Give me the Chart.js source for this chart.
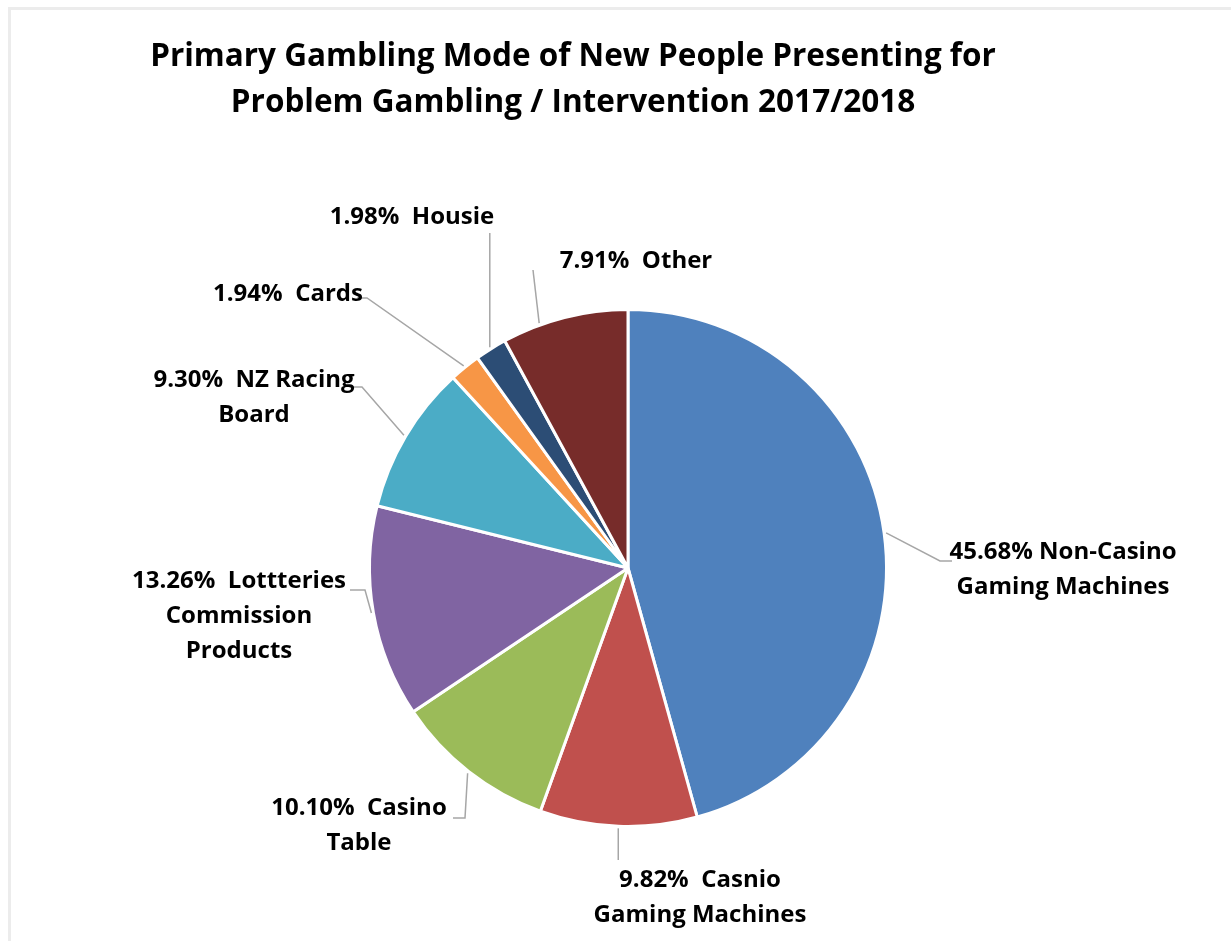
<!DOCTYPE html>
<html>
<head>
<meta charset="utf-8">
<script src="https://cdn.jsdelivr.net/npm/chart.js@4.4.1/dist/chart.umd.min.js"></script>
<style>
  html, body { margin: 0; padding: 0; background: #fff; }
  #frame {
    position: absolute; left: 8px; top: 7px; width: 1240px; height: 960px;
    border-top: 3px solid #ececec; border-left: 3px solid #ececec;
  }
  #chart { position: absolute; left: 0; top: 0; }
</style>
</head>
<body>
<div id="frame"></div>
<canvas id="chart" width="1231" height="941"></canvas>
<script>
// Slice data, clockwise from 12 o'clock
const categories = [
    'Non-Casino\nGaming Machines',
    'Casnio\nGaming Machines',
    'Casino\nTable',
    'Lottteries\nCommission\nProducts',
    'NZ Racing\nBoard',
    'Cards',
    'Housie',
    'Other'
];
const shares = [45.68, 9.82, 10.10, 13.26, 9.30, 1.94, 1.98, 7.91];
const sliceColors = ['#4F81BD', '#C0504D', '#9BBB59', '#8064A2', '#4BACC6', '#F79646', '#2C4D75', '#772C2A'];

const titleLines = [
    'Primary Gambling Mode of New People Presenting for',
    'Problem Gambling / Intervention 2017/2018'
];

// Where each data label sits (first line centre), where along the slice its
// leader starts (0..1 of the arc) and the bends of the leader line
const labelLayout = [
    { x: 1063, y: 552, gap: ' ',  at: 0.5, bends: [[940, 561], [952, 561]] },
    { x: 700,  y: 880, gap: '  ', at: 0.5, bends: [[0, 860]] },
    { x: 359,  y: 808, gap: '  ', at: 0.5, bends: [[465, 818], [453, 818]] },
    { x: 239,  y: 581, gap: '  ', at: 0.5, bends: [[365, 590], [350, 590]] },
    { x: 254,  y: 380, gap: '  ', at: 0.5, bends: [[362, 387], [352, 387]] },
    { x: 288,  y: 294, gap: '  ', at: 0.5, bends: [[367, 298], [357, 298]] },
    { x: 412,  y: 217, gap: '  ', at: 0.5, bends: [[0, 233]] },
    { x: 636,  y: 261, gap: '  ', at: 0.3, bends: [[533, 270]] }
];

const labelFont = 'bold 24px "Open Sans"';
const lineHeight = 35;

const pieLabels = {
    id: 'pieLabels',
    afterDraw(chart) {
        const ctx = chart.ctx;
        const arcs = chart.getDatasetMeta(0).data;

        ctx.save();

        // title
        ctx.fillStyle = '#000';
        ctx.font = 'bold 31.5px "Open Sans"';
        ctx.textAlign = 'center';
        ctx.textBaseline = 'middle';
        titleLines.forEach((t, i) => ctx.fillText(t, 573, 57 + i * 46));

        // leader lines
        ctx.strokeStyle = '#a6a6a6';
        ctx.lineWidth = 1.5;
        arcs.forEach((arc, i) => {
            const lay = labelLayout[i];
            const p = arc.getProps(['x', 'y', 'startAngle', 'endAngle', 'outerRadius'], true);
            const a = p.startAngle + (p.endAngle - p.startAngle) * lay.at;
            const sx = p.x + Math.cos(a) * (p.outerRadius + 2);
            const sy = p.y + Math.sin(a) * (p.outerRadius + 2);
            ctx.beginPath();
            ctx.moveTo(sx, sy);
            lay.bends.forEach(b => {
                // a zero x means a straight vertical drop from the slice
                ctx.lineTo(b[0] || sx, b[1]);
            });
            ctx.stroke();
        });

        // label text
        ctx.fillStyle = '#000';
        ctx.font = labelFont;
        shares.forEach((v, i) => {
            const lay = labelLayout[i];
            const lines = (v.toFixed(2) + '%' + lay.gap + categories[i]).split('\n');
            lines.forEach((line, j) => ctx.fillText(line, lay.x, lay.y + j * lineHeight));
        });

        ctx.restore();
    }
};

new Chart(document.getElementById('chart'), {
    type: 'pie',
    data: {
        labels: categories.map(c => c.replace(/\n/g, ' ')),
        datasets: [{
            data: shares,
            backgroundColor: sliceColors,
            borderColor: '#fff',
            borderWidth: 3
        }]
    },
    options: {
        responsive: false,
        animation: false,
        layout: { padding: { left: 368, right: 343, top: 306, bottom: 111 } },
        plugins: {
            legend: { display: false },
            title: { display: false },
            tooltip: { enabled: false }
        }
    },
    plugins: [pieLabels]
});
</script>
</body>
</html>
